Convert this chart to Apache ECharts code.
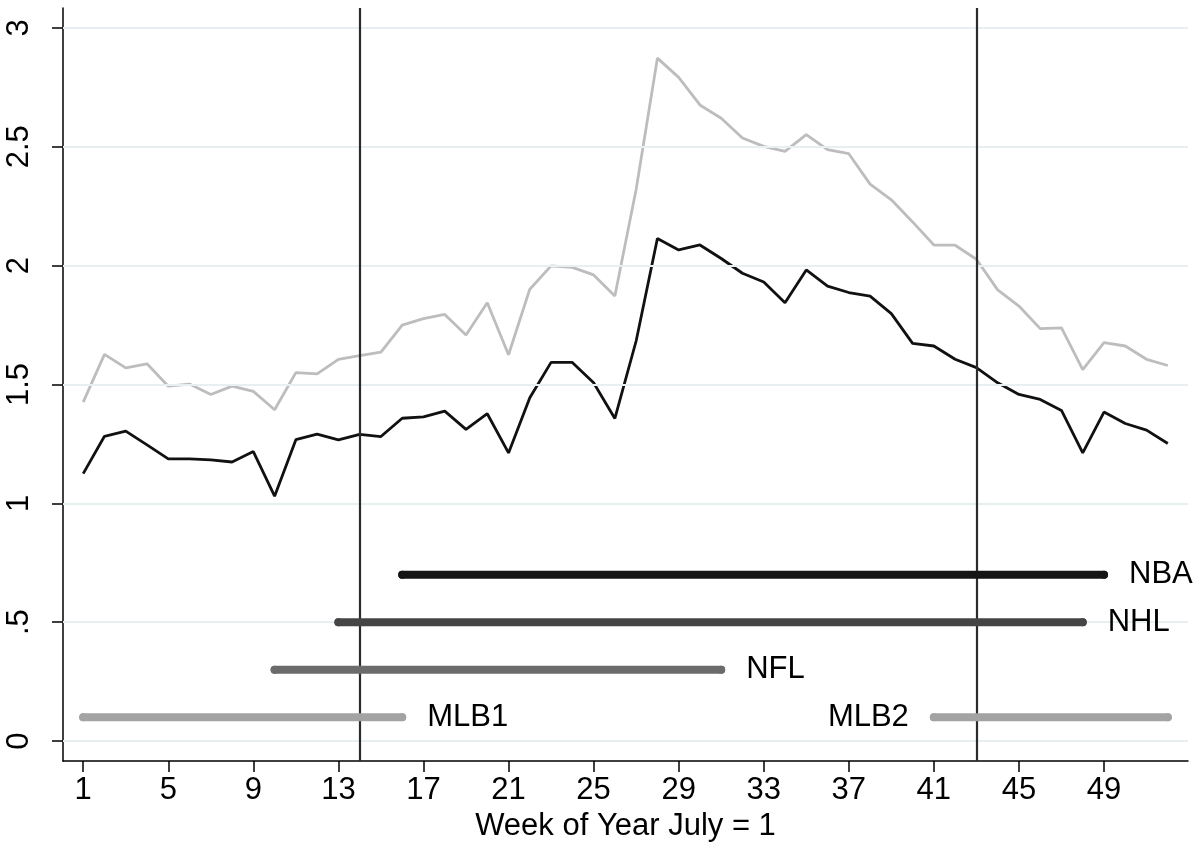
<!DOCTYPE html>
<html>
<head>
<meta charset="utf-8">
<script src="https://cdn.jsdelivr.net/npm/echarts@6/dist/echarts.min.js"></script>
<style>
html,body{margin:0;padding:0;background:#fff;}
#chart{width:1199px;height:844px;}
</style>
</head>
<body>
<div id="chart"></div>
<script>
// ---- data ----
var weeks = [];
for (var i = 1; i <= 52; i++) weeks.push(i);
var greySeries = [1.426,1.627,1.570,1.587,1.493,1.502,1.458,1.493,1.471,1.394,
  1.550,1.545,1.606,1.621,1.636,1.750,1.777,1.795,1.708,1.844,
  1.625,1.901,1.999,1.993,1.961,1.872,2.320,2.873,2.792,2.676,
  2.620,2.537,2.502,2.481,2.551,2.488,2.471,2.343,2.277,2.184,
  2.087,2.086,2.027,1.898,1.830,1.735,1.738,1.563,1.676,1.662,
  1.606,1.580];
var blackSeries = [1.125,1.282,1.304,1.246,1.187,1.187,1.183,1.174,1.218,1.030,
  1.268,1.291,1.267,1.290,1.281,1.358,1.364,1.388,1.311,1.377,
  1.212,1.444,1.593,1.593,1.507,1.357,1.683,2.114,2.066,2.087,
  2.030,1.968,1.931,1.844,1.982,1.914,1.887,1.872,1.798,1.673,
  1.662,1.606,1.571,1.507,1.458,1.437,1.391,1.212,1.384,1.336,
  1.308,1.252];
var leagues = ['NBA','NHL','NFL','MLB1','MLB2'];
var seasonStart = [16,13,10,1,41];
var seasonEnd = [49,48,31,16,52];
var seasonLevel = [0.7,0.5,0.3,0.1,0.1];
var labelSide = ['right','right','right','right','left'];
var leagueColors = ['#151515','#454545','#6b6b6b','#a3a3a3','#a3a3a3'];
var vLines = [14,43];
var xTicks = [1,5,9,13,17,21,25,29,33,37,41,45,49];
var yTicks = [0,0.5,1,1.5,2,2.5,3];
var yTickLabels = ['0','.5','1','1.5','2','2.5','3'];

var FONT = 'Liberation Sans, Arial, Helvetica, sans-serif';
var FS = 31;

var series = [];
// grid lines (drawn through the axis scale)
series.push({
  type: 'line', data: [], silent: true, z: 1,
  markLine: {
    silent: true, symbol: 'none', label: {show: false},
    lineStyle: {color: '#e7eff1', width: 2, type: 'solid'},
    data: yTicks.map(function (v) { return {yAxis: v}; })
  }
});
series.push({
  type: 'line', name: 'grey', z: 3,
  data: weeks.map(function (w, i) { return [w, greySeries[i]]; }),
  symbol: 'none', lineStyle: {color: '#bdbdbd', width: 2.8}
});
series.push({
  type: 'line', name: 'black', z: 4,
  data: weeks.map(function (w, i) { return [w, blackSeries[i]]; }),
  symbol: 'none', lineStyle: {color: '#111111', width: 2.8}
});
leagues.forEach(function (name, k) {
  var pts;
  var labelled = {
    value: null,
    label: {show: true, position: labelSide[k], distance: 21, formatter: name,
      color: '#000', fontSize: FS, fontFamily: FONT}
  };
  if (labelSide[k] === 'right') {
    labelled.value = [seasonEnd[k], seasonLevel[k]];
    pts = [[seasonStart[k], seasonLevel[k]], labelled];
  } else {
    labelled.value = [seasonStart[k], seasonLevel[k]];
    pts = [labelled, [seasonEnd[k], seasonLevel[k]]];
  }
  series.push({
    type: 'line', name: name, z: 5,
    data: pts,
    symbol: 'circle', symbolSize: 8, showSymbol: true,
    itemStyle: {color: leagueColors[k]},
    lineStyle: {color: leagueColors[k], width: 8, cap: 'round'},
    label: {show: false}
  });
});
// vertical reference lines
series.push({
  type: 'line', data: [], silent: true, z: 6,
  markLine: {
    silent: true, symbol: 'none', label: {show: false},
    lineStyle: {color: '#2b2b2b', width: 2.2, type: 'solid'},
    data: vLines.map(function (v) { return {xAxis: v}; })
  }
});

var chart = echarts.init(document.getElementById('chart'));
chart.setOption({
  animation: false,
  backgroundColor: '#ffffff',
  grid: {left: 63, right: 11, top: 8, bottom: 83, containLabel: false, outerBoundsMode: 'none'},
  xAxis: {
    type: 'value', min: 0.05, max: 52.95,
    name: 'Week of Year July = 1', nameLocation: 'middle', nameGap: 47,
    nameTextStyle: {fontSize: FS, fontFamily: FONT, color: '#000'},
    axisLine: {show: true, onZero: false, lineStyle: {color: '#000', width: 1.5}},
    axisTick: {show: true, length: 11, customValues: xTicks, lineStyle: {color: '#000', width: 1.5}},
    axisLabel: {show: true, customValues: xTicks, margin: 14, fontSize: FS, fontFamily: FONT, color: '#000'},
    splitLine: {show: false}
  },
  yAxis: {
    type: 'value', min: -0.084, max: 3.084,
    axisLine: {show: true, onZero: false, lineStyle: {color: '#000', width: 1.5}},
    axisTick: {show: true, length: 11, customValues: yTicks, lineStyle: {color: '#000', width: 1.5}},
    axisLabel: {show: true, customValues: yTicks, rotate: 90, margin: 28,
      fontSize: FS, fontFamily: FONT, color: '#000',
      formatter: function (v) {
        var idx = yTicks.indexOf(Math.round(v * 10) / 10);
        return idx >= 0 ? yTickLabels[idx] : '';
      }},
    splitLine: {show: false}
  },
  series: series
});
</script>
</body>
</html>
